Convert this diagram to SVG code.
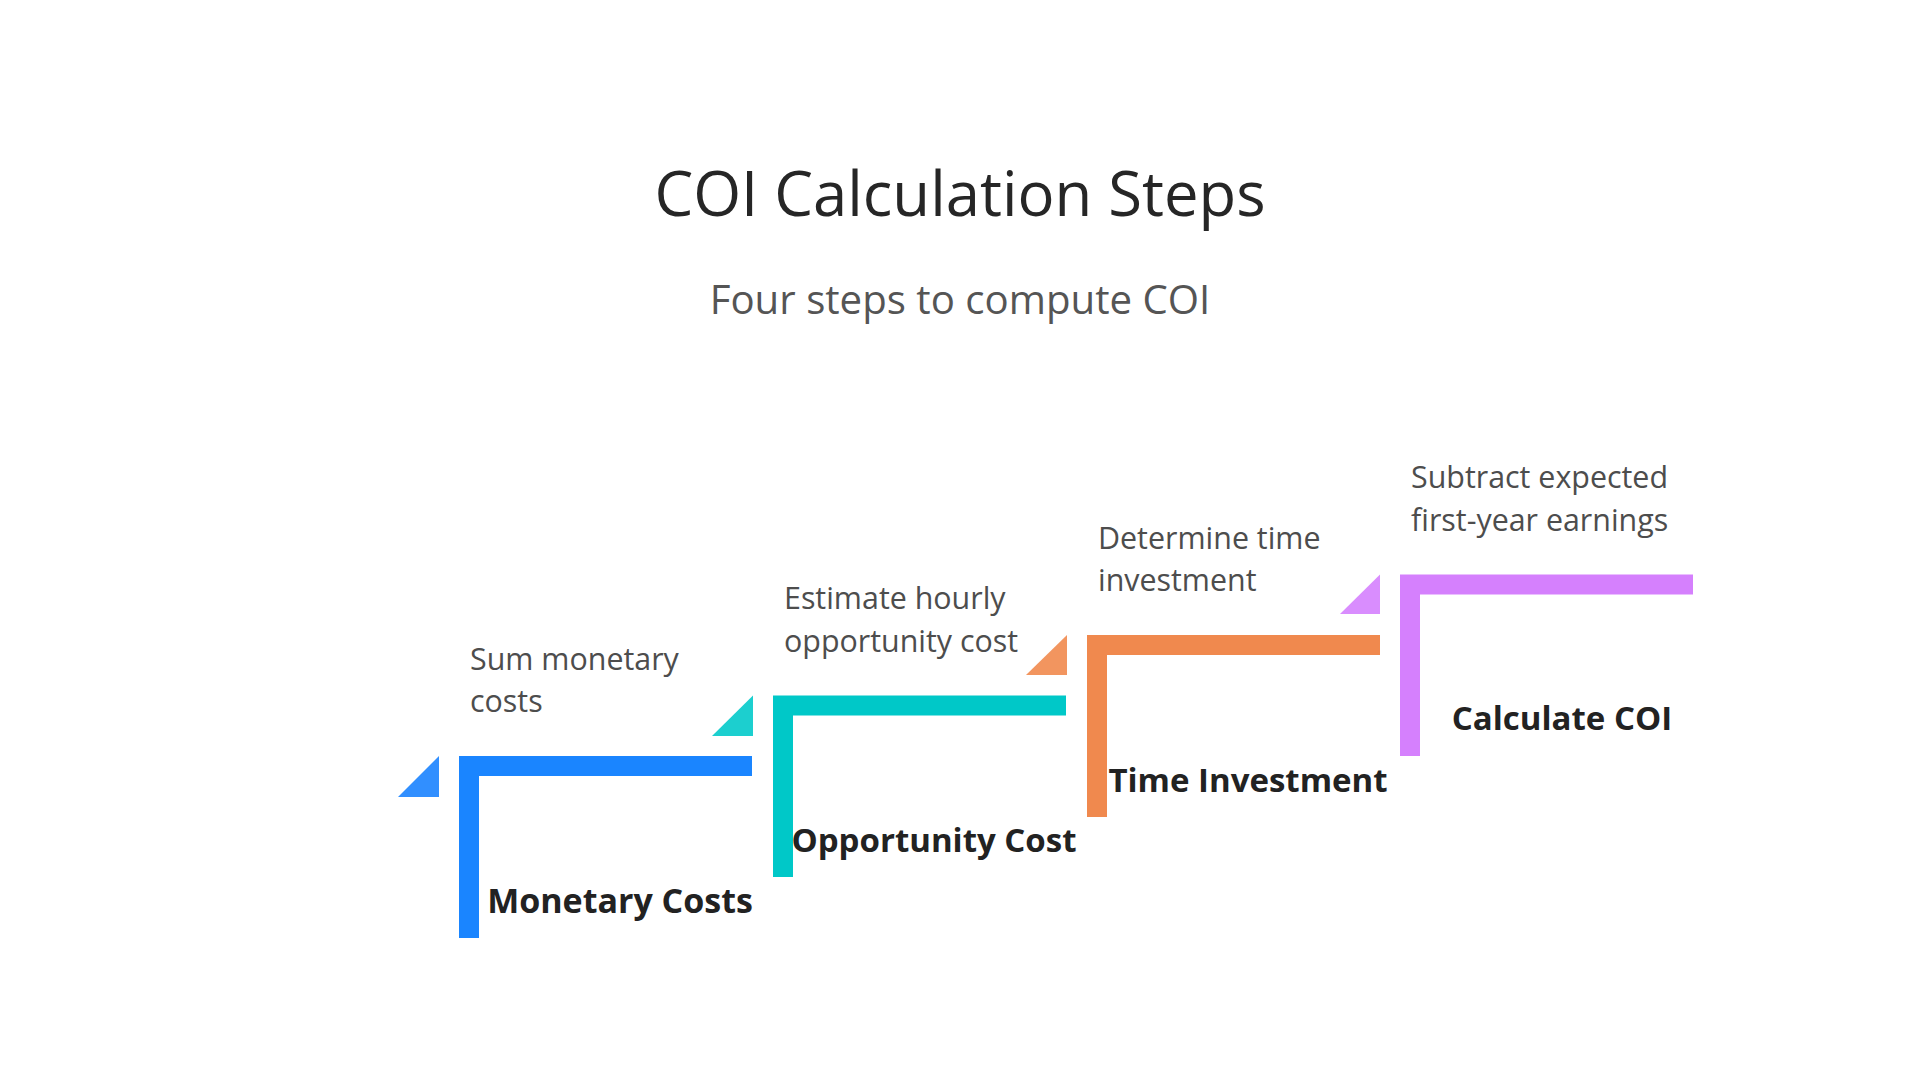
<svg xmlns="http://www.w3.org/2000/svg" width="1920" height="1080" viewBox="0 0 1920 1080">
<style>
.title{font-family:"Open Sans","Noto Sans","Liberation Sans",sans-serif;font-size:61.6px;fill:#262626;text-anchor:middle}
.sub{font-family:"Open Sans","Noto Sans","Liberation Sans",sans-serif;font-size:40.2px;fill:#555555;text-anchor:middle}
.desc{font-family:"Open Sans","Noto Sans","Liberation Sans",sans-serif;font-size:30.4px;fill:#4d4d4d}
.label{font-family:"Open Sans","Noto Sans","Liberation Sans",sans-serif;font-size:33px;font-weight:bold;fill:#222222;text-anchor:middle}
</style>
<rect width="1920" height="1080" fill="#ffffff"/>
<g id="header">
<text class="title" x="960" y="216">COI Calculation Steps</text>
<text class="sub" x="960" y="314">Four steps to compute COI</text>
</g>
<g id="connectors"/>
<g id="step1">
<polygon points="439,756 439,797 398,797" fill="#318fff"/>
<path d="M459,756 H752 V776 H479 V938 H459 Z" fill="#1a85ff"/>
<text class="desc" x="470" y="670">Sum monetary</text>
<text class="desc" x="470" y="712">costs</text>
<text class="label" x="620" y="913" style="font-size:34px">Monetary Costs</text>
</g>
<g id="step2">
<polygon points="753,695.5 753,736 712,736" fill="#1ccfcf"/>
<path d="M773,695.5 H1066 V715.5 H793 V877 H773 Z" fill="#00c8c8"/>
<text class="desc" x="784" y="609">Estimate hourly</text>
<text class="desc" x="784" y="652">opportunity cost</text>
<text class="label" x="934" y="852">Opportunity Cost</text>
</g>
<g id="step3">
<polygon points="1067,635 1067,675 1026,675" fill="#f2955f"/>
<path d="M1087,635 H1380 V655 H1107 V817 H1087 Z" fill="#f0894e"/>
<text class="desc" x="1098" y="549">Determine time</text>
<text class="desc" x="1098" y="591">investment</text>
<text class="label" x="1248" y="792">Time Investment</text>
</g>
<g id="step4">
<polygon points="1380,574.5 1380,614 1340,614" fill="#d98dfe"/>
<path d="M1400,574.5 H1693 V594.5 H1420 V756 H1400 Z" fill="#d580fd"/>
<text class="desc" x="1411" y="488">Subtract expected</text>
<text class="desc" x="1411" y="531">first-year earnings</text>
<text class="label" x="1562" y="730">Calculate COI</text>
</g>
</svg>
